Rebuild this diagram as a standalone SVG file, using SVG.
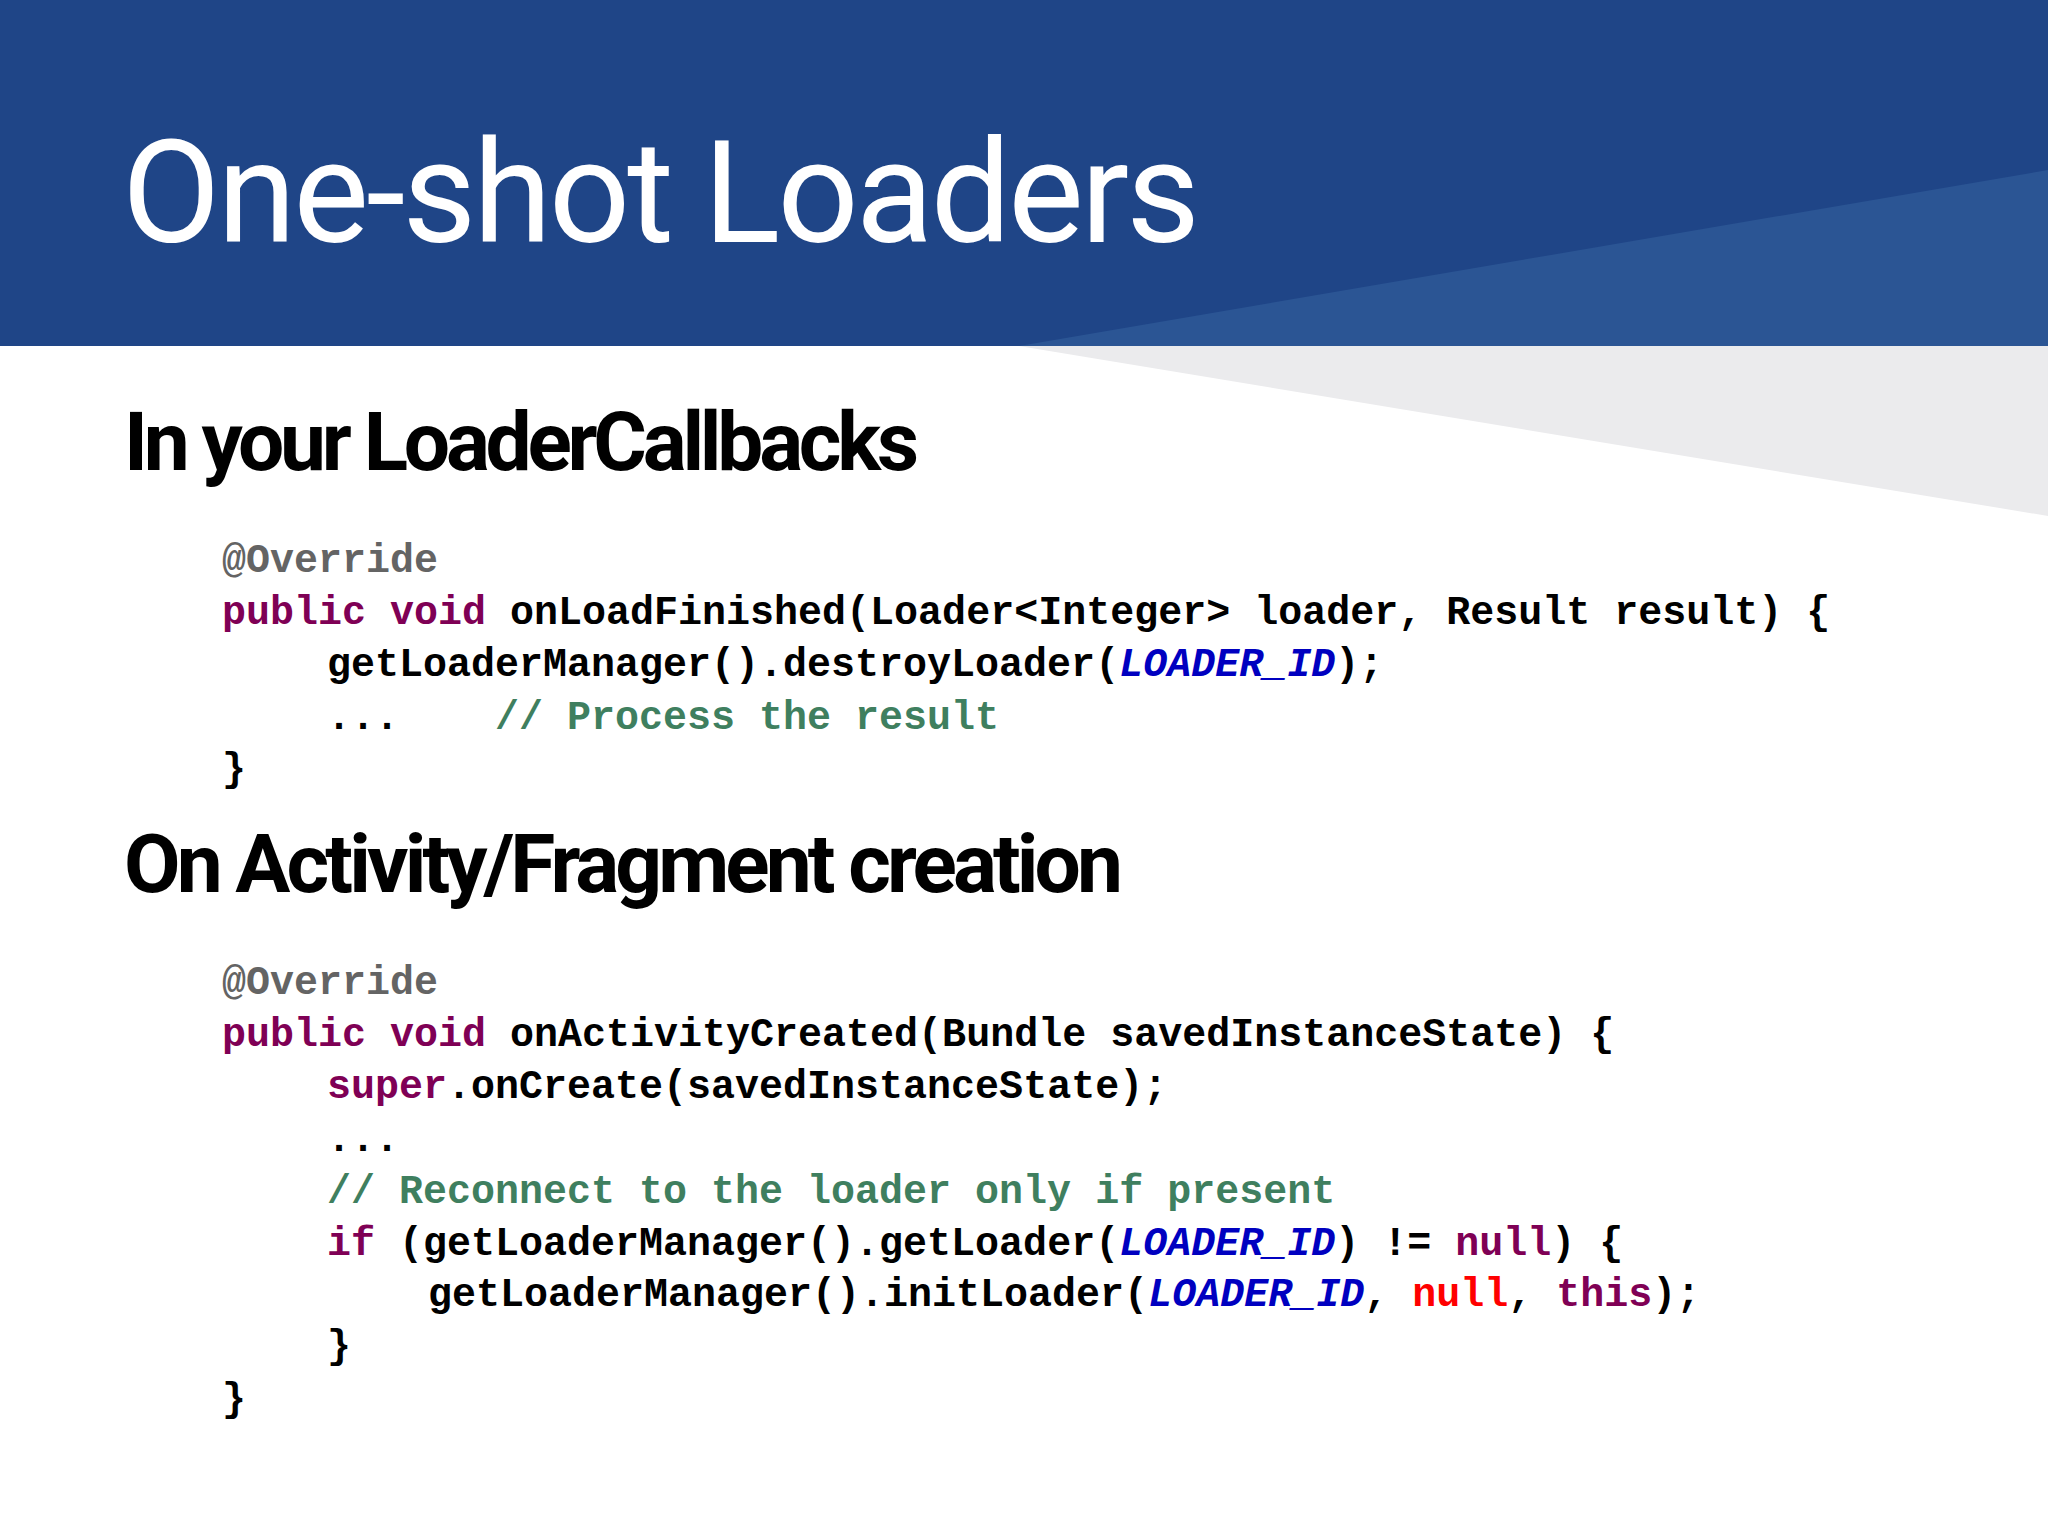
<svg xmlns="http://www.w3.org/2000/svg" width="2048" height="1536" viewBox="0 0 2048 1536">
<style>
.h{font-family:Roboto,"Liberation Sans",sans-serif;font-weight:bold;font-size:82px;fill:#000}
.c{font-family:"Liberation Mono","Courier New",monospace;font-weight:bold;font-size:40px;fill:#000;white-space:pre}
.k{fill:#7f0055}.a{fill:#646464}.g{fill:#3f7f5f}.b{fill:#0000c0;font-style:italic}.r{fill:#ff0000}
</style>
<rect width="2048" height="1536" fill="#fff"/>
<rect width="2048" height="346" fill="#1f4587"/>
<polygon points="1019,346 2048,170 2048,346" fill="#2b5594"/>
<polygon points="1019,346 2048,346 2048,516" fill="#ebebed"/>
<text x="122" y="242" font-family="Roboto,'Liberation Sans',sans-serif" font-size="143" fill="#fff" textLength="1078">One-shot Loaders</text>
<g id="sec1">
<text class="h" x="124" y="470" textLength="795">In your LoaderCallbacks</text>
<text class="c" x="222" y="572" xml:space="preserve"><tspan class="a">@Override</tspan></text>
<text class="c" x="222" y="624" xml:space="preserve"><tspan class="k">public void</tspan> onLoadFinished(Loader&lt;Integer&gt; loader, Result result) {</text>
<text class="c" x="327" y="676" xml:space="preserve">getLoaderManager().destroyLoader(<tspan class="b">LOADER_ID</tspan>);</text>
<text class="c" x="327" y="729" xml:space="preserve">...    <tspan class="g">// Process the result</tspan></text>
<text class="c" x="222" y="781">}</text>
</g>
<g id="sec2">
<text class="h" x="124" y="892" textLength="999">On Activity/Fragment creation</text>
<text class="c" x="222" y="994"><tspan class="a">@Override</tspan></text>
<text class="c" x="222" y="1046" xml:space="preserve"><tspan class="k">public void</tspan> onActivityCreated(Bundle savedInstanceState) {</text>
<text class="c" x="327" y="1098" xml:space="preserve"><tspan class="k">super</tspan>.onCreate(savedInstanceState);</text>
<text class="c" x="327" y="1151">...</text>
<text class="c" x="327" y="1203" xml:space="preserve"><tspan class="g">// Reconnect to the loader only if present</tspan></text>
<text class="c" x="327" y="1255" xml:space="preserve"><tspan class="k">if</tspan> (getLoaderManager().getLoader(<tspan class="b">LOADER_ID</tspan>) != <tspan class="k">null</tspan>) {</text>
<text class="c" x="428" y="1306" xml:space="preserve">getLoaderManager().initLoader(<tspan class="b">LOADER_ID</tspan>, <tspan class="r">null</tspan>, <tspan class="k">this</tspan>);</text>
<text class="c" x="327" y="1358">}</text>
<text class="c" x="222" y="1411">}</text>
</g>
</svg>
